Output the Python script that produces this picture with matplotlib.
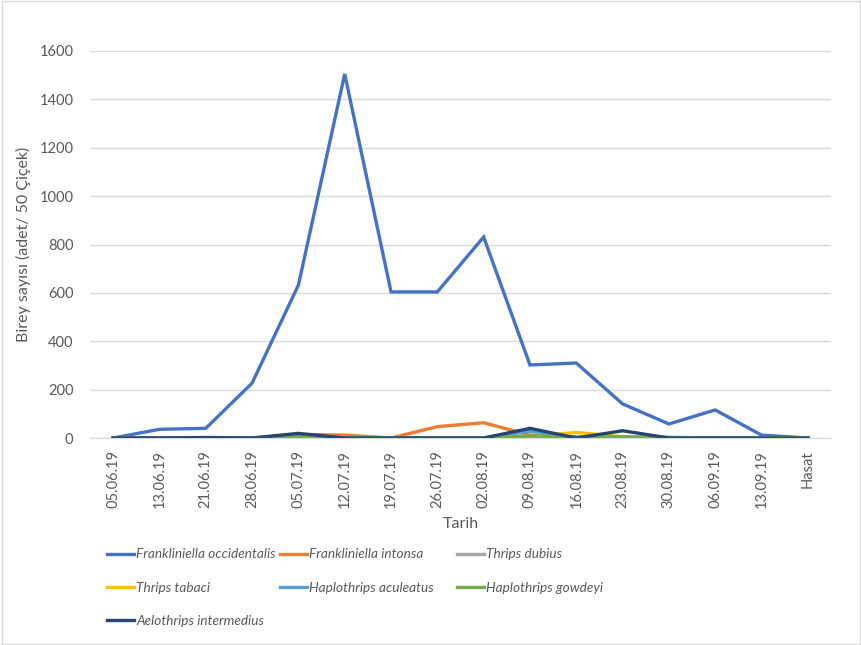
import matplotlib.pyplot as plt
import numpy as np

plt.rcParams['font.family'] = ['Lato', 'DejaVu Sans']

dates = ["05.06.19", "13.06.19", "21.06.19", "28.06.19", "05.07.19", "12.07.19",
         "19.07.19", "26.07.19", "02.08.19", "09.08.19", "16.08.19", "23.08.19",
         "30.08.19", "06.09.19", "13.09.19", "Hasat"]

occidentalis = [0, 36, 40, 227, 632, 1505, 604, 604, 831, 302, 310, 141, 58, 116, 12, 0]
intonsa = [0, 0, 0, 0, 15, 12, 0, 47, 63, 12, 0, 0, 0, 0, 0, 0]
dubius = [0, 0, 0, 0, 0, 0, 0, 0, 0, 0, 0, 0, 0, 0, 0, 0]
tabaci = [0, 0, 0, 0, 0, 0, 0, 0, 0, 5, 23, 5, 0, 0, 0, 0]
aculeatus = [0, 0, 0, 0, 0, 0, 0, 0, 0, 28, 0, 0, 0, 0, 0, 0]
gowdeyi = [0, 0, 0, 0, 8, 0, 0, 0, 0, 8, 5, 5, 3, 0, 0, 0]
intermedius = [0, 0, 2, 0, 19, 0, 0, 0, 0, 40, 0, 30, 0, 0, 0, 0]

series = [
    ("Frankliniella occidentalis", occidentalis, "#4472C4"),
    ("Frankliniella intonsa", intonsa, "#ED7D31"),
    ("Thrips dubius", dubius, "#A5A5A5"),
    ("Thrips tabaci", tabaci, "#FFC000"),
    ("Haplothrips aculeatus", aculeatus, "#5B9BD5"),
    ("Haplothrips gowdeyi", gowdeyi, "#70AD47"),
    ("Aelothrips intermedius", intermedius, "#264478"),
]

fig = plt.figure(figsize=(8.62, 6.45), dpi=100)
ax = fig.add_axes([90/862, 1 - 438/645, 741/862, 387/645])

x = np.arange(len(dates))
lines = []
for name, vals, col in series:
    ln, = ax.plot(x, vals, color=col, lw=2.4, label=name, solid_joinstyle="miter")
    lines.append(ln)

ax.set_xlim(-0.5, len(dates) - 0.5)
ax.set_ylim(0, 1600)
ax.set_yticks(np.arange(0, 1601, 200))
ax.set_xticks(x)
ax.set_xticklabels(dates, rotation=90)
ax.tick_params(axis="both", length=0, labelsize=10.5, colors="#595959")
ax.tick_params(axis="y", pad=12)
ax.tick_params(axis="x", pad=9)
ax.grid(axis="y", color="#D9D9D9", lw=1)
ax.set_axisbelow(True)
for s in ["top", "right", "left"]:
    ax.spines[s].set_visible(False)
ax.spines["bottom"].set_color("#D9D9D9")

ax.set_ylabel("Birey sayısı (adet/ 50 Çiçek)", fontsize=11.5, color="#595959", labelpad=6)
ax.set_xlabel("Tarih", fontsize=11.5, color="#595959", labelpad=6)

# Excel lays the legend out row by row in equal-width columns:
# one single-column legend per column
cols = [[0, 3, 6], [1, 4], [2, 5]]
col_x = [107, 280, 457]
for idx, cx in zip(cols, col_x):
    leg = fig.legend([lines[i] for i in idx], [series[i][0] for i in idx],
                     loc="upper left", bbox_to_anchor=(cx/862, 1 - 548.5/645), ncol=1,
                     frameon=False, prop={"style": "italic", "size": 9.8}, labelcolor="#595959",
                     handlelength=1.95, handletextpad=0.2, labelspacing=1.55,
                     borderpad=0, borderaxespad=0)

fig.patches.append(plt.Rectangle((0.002, 0.002), 0.996, 0.996, transform=fig.transFigure,
                                 fill=False, edgecolor="#D9D9D9", lw=1))

fig.savefig("out.png", dpi=100)
